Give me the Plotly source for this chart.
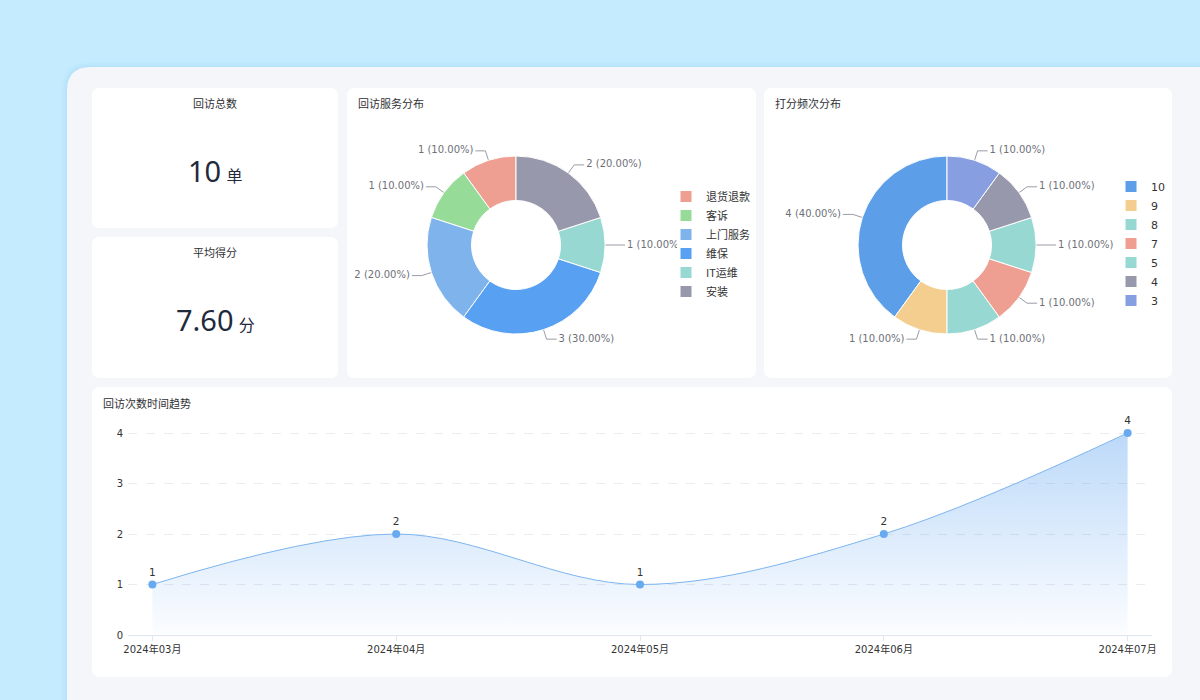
import math
import plotly.graph_objects as go

# ---------------- data ----------------
service_labels = ["退货退款", "客诉", "上门服务", "维保", "IT运维", "安装"]
service_counts = [1, 1, 2, 3, 1, 2]
service_colors = ["#EE9F92", "#96DC98", "#7EB3EB", "#57A0F2", "#98D8D2", "#9898AC"]

score_labels = ["10", "9", "8", "7", "5", "4", "3"]
score_counts = [4, 1, 1, 1, 1, 1, 1]
score_colors = ["#5C9FE8", "#F3CE8F", "#98D8D2", "#EE9F92", "#98D8D2", "#9898AC", "#879EE0"]

months = ["2024年03月", "2024年04月", "2024年05月", "2024年06月", "2024年07月"]
visits = [1, 2, 1, 2, 4]

kpi_total = "10"
kpi_total_unit = "单"
kpi_avg = "7.60"
kpi_avg_unit = "分"

# ---------------- layout helpers ----------------
W, H = 1200, 700
FONT = "Noto Sans, Noto Sans CJK SC, sans-serif"
DV = "DejaVu Sans, Noto Sans CJK SC, sans-serif"
CJK = "Noto Sans CJK SC, Noto Sans, sans-serif"


def fx(x):
    return x / W


def fy(y):
    return 1 - y / H


def rrect(x0, y0, x1, y1, r):
    rx, ry = r / W, r / H
    X0, X1 = fx(x0), fx(x1)
    Y0, Y1 = fy(y0), fy(y1)
    return (f"M {X0+rx},{Y0} L {X1-rx},{Y0} Q {X1},{Y0} {X1},{Y0-ry} "
            f"L {X1},{Y1+ry} Q {X1},{Y1} {X1-rx},{Y1} L {X0+rx},{Y1} "
            f"Q {X0},{Y1} {X0},{Y1+ry} L {X0},{Y0-ry} Q {X0},{Y0} {X0+rx},{Y0} Z")


def panel_path(x0, y0, r):
    return (f"M {fx(x0)},{fy(700)} L {fx(x0)},{fy(y0+r)} Q {fx(x0)},{fy(y0)} {fx(x0+r)},{fy(y0)} "
            f"L {fx(1200)},{fy(y0)} L {fx(1200)},{fy(700)} Z")


shapes = []
R = 24
for d, a in [(6, 0.025), (4, 0.035), (2, 0.05)]:
    shapes.append(dict(type="path", xref="paper", yref="paper", layer="below",
                       path=panel_path(67 - d, 67 - d, R + d),
                       fillcolor=f"rgba(90,170,220,{a})", line=dict(width=0)))
shapes.append(dict(type="path", xref="paper", yref="paper", layer="below",
                   path=panel_path(67, 67, R), fillcolor="#F5F6FA", line=dict(width=0)))
cards = [(92, 88, 338, 228), (92, 237, 338, 378), (347, 88, 756, 378),
         (764, 88, 1172, 378), (92, 387, 1172, 677)]
for c in cards:
    shapes.append(dict(type="path", xref="paper", yref="paper", layer="below",
                       path=rrect(*c, 8), fillcolor="#FFFFFF", line=dict(width=0)))

fig = go.Figure()

# ---------------- donuts ----------------
pies = [
    dict(labels=service_labels, values=service_counts, colors=service_colors,
         cx=516, cy=245, r=89, legend="legend", ax=("x", "y")),
    dict(labels=score_labels, values=score_counts, colors=score_colors,
         cx=947, cy=245, r=89, legend="legend2", ax=("x2", "y2")),
]

for p in pies:
    cx, cy, r = p["cx"], p["cy"], p["r"]
    total = sum(p["values"])
    fig.add_trace(go.Pie(
        labels=p["labels"], values=p["values"], hole=0.5, sort=False,
        direction="counterclockwise", rotation=-360 * p["values"][0] / total,
        textinfo="none",
        marker=dict(colors=p["colors"], line=dict(color="#FFFFFF", width=1)),
        domain=dict(x=[fx(cx - r), fx(cx + r)], y=[fy(cy + r), fy(cy - r)]),
        legend=p["legend"], hoverinfo="label+value+percent", showlegend=True,
    ))
    cum = 0
    L1, L2 = 10, 10
    for v in p["values"]:
        th = math.radians((cum + v / 2) / total * 360)
        cum += v
        sx, sy = cx - r * math.sin(th), cy - r * math.cos(th)
        ex, ey = cx - (r + L1) * math.sin(th), cy - (r + L1) * math.cos(th)
        side = 1 if ex >= cx else -1
        hx = ex + side * L2
        fig.add_trace(go.Scatter(
            x=[sx, ex, hx], y=[sy, ey, ey], mode="lines", xaxis=p["ax"][0], yaxis=p["ax"][1],
            line=dict(color="#9A9CA6", width=1), hoverinfo="skip", showlegend=False, cliponaxis=True))
        fig.add_trace(go.Scatter(
            x=[hx + side * 2], y=[ey], mode="text", xaxis=p["ax"][0], yaxis=p["ax"][1],
            text=[f"{v} ({v / total * 100:.2f}%)"],
            textposition="middle right" if side > 0 else "middle left",
            textfont=dict(family=DV, size=10, color="#6E7079"),
            hoverinfo="skip", showlegend=False, cliponaxis=True))

# ---------------- line chart ----------------
fig.add_trace(go.Scatter(
    x=months, y=visits, mode="lines+markers+text", xaxis="x3", yaxis="y3",
    line=dict(color="#7DB5EF", width=1, shape="spline", smoothing=1),
    marker=dict(color="#68AAF0", size=8),
    text=[str(v) for v in visits], textposition="top center",
    textfont=dict(family=DV, size=10.5, color="#333333"),
    fill="tozeroy",
    fillgradient=dict(type="vertical", start=0, stop=4,
                      colorscale=[[0, "rgba(88,160,240,0.02)"], [1, "rgba(88,160,240,0.40)"]]),
    showlegend=False, cliponaxis=False, hovertemplate="%{x}: %{y}<extra></extra>",
))

annotations = []


def title(x, y, text, anchor="left"):
    annotations.append(dict(x=fx(x), y=fy(y), xref="paper", yref="paper", text=text,
                            showarrow=False, xanchor=anchor, yanchor="middle",
                            font=dict(family=CJK, size=11, color="#303133")))


title(215, 103, "回访总数", "center")
title(215, 252, "平均得分", "center")
title(356, 103, "回访服务分布")
title(773, 103, "打分频次分布")
title(101, 403, "回访次数时间趋势")

for val, unit, y in [(kpi_total, kpi_total_unit, 171), (kpi_avg, kpi_avg_unit, 320)]:
    annotations.append(dict(
        x=fx(215), y=fy(y), xref="paper", yref="paper", showarrow=False,
        xanchor="center", yanchor="middle",
        text=(f"{val}<span style='font-size:20px'> </span>"
              f"<span style='font-size:16px;font-family:Noto Sans CJK SC'>{unit}</span>"),
        font=dict(family=FONT, size=29, color="#1F2A3C")))

hidden = dict(visible=False, fixedrange=True, automargin=False)
fig.update_layout(
    width=W, height=H, margin=dict(l=0, r=0, t=0, b=0, pad=0, autoexpand=False),
    paper_bgcolor="#C4ECFE", plot_bgcolor="rgba(0,0,0,0)",
    shapes=shapes, annotations=annotations,
    font=dict(family=FONT, color="#333333"),
    xaxis=dict(hidden, domain=[fx(347), fx(677)], range=[347, 677], anchor="y"),
    yaxis=dict(hidden, domain=[fy(378), fy(88)], range=[378, 88], anchor="x"),
    xaxis2=dict(hidden, domain=[fx(764), fx(1172)], range=[764, 1172], anchor="y2"),
    yaxis2=dict(hidden, domain=[fy(378), fy(88)], range=[378, 88], anchor="x2"),
    xaxis3=dict(domain=[fx(128), fx(1152)], range=[-0.1, 4.1], type="category", anchor="y3",
                showline=True, linecolor="#E0E6F1", linewidth=1, showgrid=False,
                ticks="outside", ticklen=5, tickcolor="#E0E6F1", automargin=False,
                tickfont=dict(family=DV, size=10, color="#333333"), fixedrange=True),
    yaxis3=dict(domain=[fy(635), fy(431)], range=[0, 4.04], tickvals=[0, 1, 2, 3, 4], anchor="x3",
                showgrid=True, gridcolor="#E9ECF1", griddash="dash", zeroline=False,
                showline=False, tickfont=dict(family=DV, size=10, color="#333333"),
                ticklabelstandoff=4, fixedrange=True, automargin=False),
    legend=dict(x=fx(666), y=fy(182), xanchor="left", yanchor="top",
                font=dict(family=CJK, size=11, color="#333333"), bgcolor="rgba(0,0,0,0)"),
    legend2=dict(x=fx(1111), y=fy(172), xanchor="left", yanchor="top",
                 font=dict(family=DV, size=11, color="#333333"), bgcolor="rgba(0,0,0,0)"),
)

fig.write_html("out.html")
